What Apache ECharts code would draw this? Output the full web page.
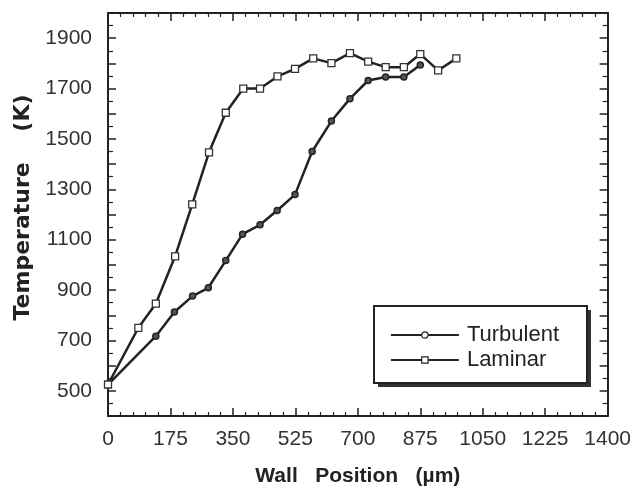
<!DOCTYPE html>
<html>
<head>
<meta charset="utf-8">
<script src="https://cdn.jsdelivr.net/npm/echarts@6/dist/echarts.min.js"></script>
<style>html,body{margin:0;padding:0;background:#fff}#c{width:634px;height:492px}</style>
</head>
<body>
<div id="c"></div>
<script>
// Wall position (µm) and temperature (K)
const turbX = [0, 134, 186, 237, 281, 330, 377, 426, 474, 524, 572, 626, 678, 729, 778, 829, 875];
const turbY = [525, 717, 813, 876, 909, 1017, 1122, 1159, 1216, 1279, 1450, 1571, 1660, 1732, 1746, 1746, 1794];
const lamX = [0, 85, 134, 188, 236, 283, 330, 379, 426, 475, 524, 575, 626, 678, 729, 778, 829, 875, 925, 976];
const lamY = [525, 750, 846, 1034, 1240, 1447, 1604, 1700, 1700, 1748, 1778, 1820, 1801, 1841, 1807, 1785, 1785, 1837, 1772, 1820];
const seriesNames = ['Turbulent', 'Laminar'];
const xTitle = 'Wall   Position   (µm)';
const yTitle = 'Temperature    (K)';
const yLabelValues = [500, 700, 900, 1100, 1300, 1500, 1700, 1900];

const ink = '#222';
const pairs = (xs, ys) => xs.map((x, i) => [x, ys[i]]);

const baseX = {
  type: 'value', min: 0, max: 1400, interval: 175,
  axisLine: { show: true, onZero: false, lineStyle: { color: ink, width: 2 } },
  axisTick: { show: true, inside: true, length: 8, lineStyle: { color: ink, width: 1.5 } },
  minorTick: { show: true, splitNumber: 5, length: 4, lineStyle: { color: ink, width: 1.2 } },
  splitLine: { show: false }
};
const baseY = {
  type: 'value', min: 400, max: 2000, interval: 100,
  axisLine: { show: true, onZero: false, lineStyle: { color: ink, width: 2 } },
  axisTick: { show: true, inside: true, length: 8, lineStyle: { color: ink, width: 1.5 } },
  minorTick: { show: true, splitNumber: 2, length: 5, lineStyle: { color: ink, width: 1.2 } },
  splitLine: { show: false }
};

const chart = echarts.init(document.getElementById('c'), null, { renderer: 'canvas' });
chart.setOption({
  backgroundColor: '#fff',
  animation: false,
  grid: { left: 108, right: 25, top: 13, bottom: 72 },
  xAxis: [
    Object.assign({}, baseX, {
      position: 'bottom',
      name: xTitle, nameLocation: 'middle', nameGap: 50,
      nameTextStyle: { fontFamily: 'Liberation Sans', fontWeight: 'bold', fontSize: 21, color: ink },
      axisLabel: {
        show: true, margin: 13, fontFamily: 'Liberation Sans', fontSize: 21, color: '#333',
        showMaxLabel: true, showMinLabel: true, formatter: v => String(v)
      }
    }),
    Object.assign({}, baseX, { position: 'top', axisLabel: { show: false } })
  ],
  yAxis: [
    Object.assign({}, baseY, {
      position: 'left',
      name: yTitle, nameLocation: 'middle', nameGap: 74,
      nameTextStyle: { fontFamily: 'DejaVu Sans', fontWeight: 'bold', fontSize: 22, color: ink, padding: [0, 0, 0, 14] },
      axisLabel: {
        show: true, margin: 16, fontFamily: 'Liberation Sans', fontSize: 21, color: '#333',
        formatter: v => (yLabelValues.indexOf(v) >= 0 ? String(v) : '')
      }
    }),
    Object.assign({}, baseY, { position: 'right', axisLabel: { show: false } })
  ],
  graphic: [
    { type: 'rect', z: 1, silent: true, shape: { x: 378, y: 310, width: 213, height: 77 }, style: { fill: '#333' } },
    { type: 'rect', z: 2, silent: true, shape: { x: 374, y: 306, width: 213, height: 77 }, style: { fill: '#fff', stroke: ink, lineWidth: 2 } }
  ],
  legend: {
    z: 10,
    orient: 'vertical',
    left: 374, top: 306,
    padding: [18, 26, 11, 16],
    itemWidth: 68, itemHeight: 8, itemGap: 3,
    textStyle: { fontFamily: 'Liberation Sans', fontSize: 22, color: ink, padding: [0, 0, 0, 3], lineHeight: 22 },
    itemStyle: { color: '#fff', borderColor: ink, borderWidth: 1.2 },
    lineStyle: { color: ink, width: 1.8 },
    data: seriesNames
  },
  series: [
    {
      name: seriesNames[0], type: 'line', xAxisIndex: 0, yAxisIndex: 0,
      data: pairs(turbX, turbY),
      symbol: 'circle', symbolSize: 6, showAllSymbol: true,
      lineStyle: { color: ink, width: 2.5 },
      itemStyle: { color: '#555', borderColor: ink, borderWidth: 1.5 }
    },
    {
      name: seriesNames[1], type: 'line', xAxisIndex: 0, yAxisIndex: 0,
      data: pairs(lamX, lamY),
      symbol: 'rect', symbolSize: 7, showAllSymbol: true,
      lineStyle: { color: ink, width: 2.5 },
      itemStyle: { color: '#fff', borderColor: '#333', borderWidth: 1.3 }
    }
  ]
});
</script>
</body>
</html>
